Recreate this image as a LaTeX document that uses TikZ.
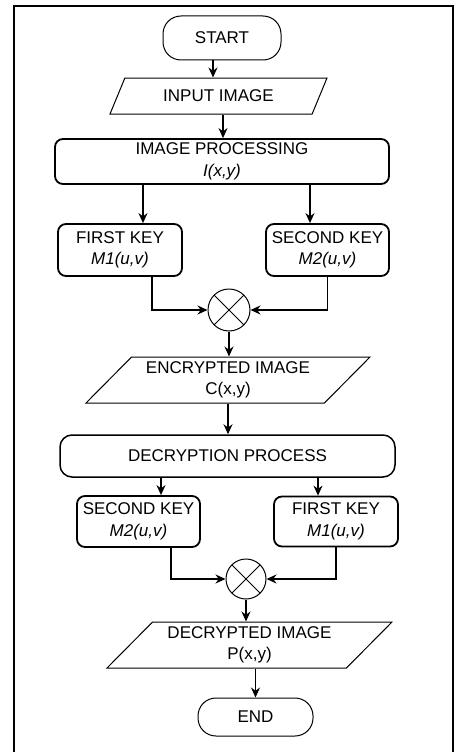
\documentclass[tikz,border=0pt]{standalone}
\usepackage{fontspec}
\setmainfont{Liberation Sans}
\usetikzlibrary{positioning, arrows.meta, shapes.geometric}

\begin{document}
\begin{tikzpicture}[
        x=1pt, y=-1pt,
        terminal/.style={draw, rectangle, rounded corners=18pt, line width=1pt, align=center, inner sep=0pt},
        io/.style={draw, trapezium, trapezium left angle=39, trapezium right angle=141, trapezium stretches body, line width=1pt, align=center, inner sep=0pt},
        box/.style={draw, rectangle, rounded corners=8pt, line width=1.8pt, align=center, inner sep=0pt},
        mixer/.style={draw, circle, minimum size=42pt, inner sep=0pt, line width=1pt, path picture={\draw[line width=1pt] (path picture bounding box.north west) -- (path picture bounding box.south east) (path picture bounding box.north east) -- (path picture bounding box.south west);}},
        arrow/.style={-{Stealth[length=10pt, width=9pt]}, line width=1.2pt},
        font=\fontsize{17}{21.5}\selectfont
    ]
    \useasboundingbox (0,0) rectangle (455,752);
    \draw[line width=2pt] (14,752) -- (14,6) -- (453,6) -- (453,752);

    % Nodes
    \node[terminal, minimum width=118pt, minimum height=44pt] (start) at (222,38) {START};
    \node[io, minimum width=217pt, minimum height=36pt] (input) at (218.5,96) {INPUT IMAGE};
    \node[box, minimum width=334pt, minimum height=45pt] (improc) at (222,161.5) {IMAGE PROCESSING\\\textit{I(x,y)}};
    \node[box, minimum width=124pt, minimum height=52pt] (key1) at (120,250) {FIRST KEY\\\textit{M1(u,v)}};
    \node[box, minimum width=123pt, minimum height=52pt] (key2) at (327.5,250) {SECOND KEY\\\textit{M2(u,v)}};
    \node[mixer] (mix1) at (229,310) {};
    \node[io, minimum width=284pt, minimum height=46pt] (enc) at (228,380) {ENCRYPTED IMAGE\\C(x,y)};
    \node[box, rounded corners=12pt, line width=1.5pt, minimum width=335pt, minimum height=42pt] (decproc) at (227.5,456) {DECRYPTION PROCESS};
    \node[box, minimum width=123pt, minimum height=51pt] (key2b) at (138.5,521.5) {SECOND KEY\\\textit{M2(u,v)}};
    \node[box, minimum width=124pt, minimum height=50pt] (key1b) at (336,521.5) {FIRST KEY\\\textit{M1(u,v)}};
    \node[mixer, minimum size=40pt] (mix2) at (246,579) {};
    \node[io, minimum width=285pt, minimum height=46pt] (dec) at (249.5,645) {DECRYPTED IMAGE\\P(x,y)};
    \node[terminal, minimum width=115pt, minimum height=38pt] (end) at (255.5,717) {END};

    % Encryption arrows
    \draw[arrow] ([xshift=-9pt]start.south) -- ([xshift=-9pt]start.south |- input.north);
    \draw[arrow] ([xshift=4.5pt]input.south) -- ([xshift=4.5pt]input.south |- improc.north);
    \draw[arrow] ([xshift=23pt]key1.north |- improc.south) -- ([xshift=23pt]key1.north);
    \draw[arrow] ([xshift=-17.5pt]key2.north |- improc.south) -- ([xshift=-17.5pt]key2.north);
    \draw[arrow] ([xshift=32pt]key1.south) |- (mix1.west);
    \draw[arrow] (key2.south) |- (mix1.east);
    \draw[arrow] (mix1.south) -- (mix1.south |- enc.north);

    % Decryption arrows
    \draw[arrow] (enc.south) -- (enc.south |- decproc.north);
    \draw[arrow] ([xshift=22.5pt]key2b.north |- decproc.south) -- ([xshift=22.5pt]key2b.north);
    \draw[arrow] ([xshift=-18pt]key1b.north |- decproc.south) -- ([xshift=-18pt]key1b.north);
    \draw[arrow] ([xshift=32.5pt]key2b.south) |- (mix2.west);
    \draw[arrow] (key1b.south) |- (mix2.east);
    \draw[arrow] (mix2.south) -- (mix2.south |- dec.north);
    \draw[arrow] (end.north |- dec.south) -- (end.north);
\end{tikzpicture}
\end{document}
